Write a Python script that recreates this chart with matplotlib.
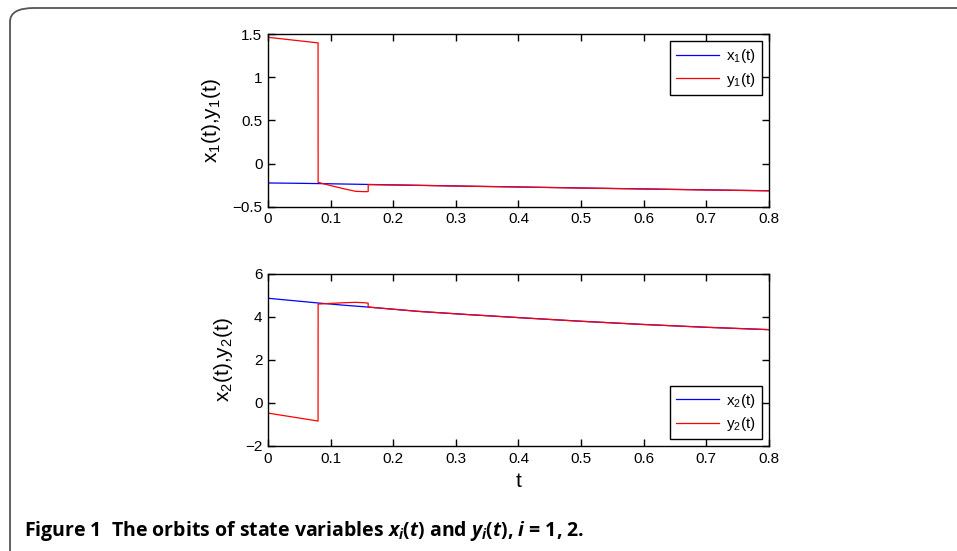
import numpy as np
import matplotlib
matplotlib.use("Agg")
import matplotlib.pyplot as plt
from matplotlib.patches import FancyBboxPatch

plt.rcParams['font.family'] = ['Liberation Sans', 'DejaVu Sans']
plt.rcParams['mathtext.fontset'] = 'custom'
plt.rcParams['mathtext.rm'] = 'Liberation Sans'
plt.rcParams['mathtext.it'] = 'Open Sans:italic:bold'

# drive states x1, x2
t_x = [0, 0.04, 0.08, 0.12, 0.16, 0.24, 0.32, 0.40, 0.50, 0.60, 0.70, 0.80]
x1 = [-0.225, -0.228, -0.232, -0.237, -0.242, -0.252, -0.262, -0.271, -0.283, -0.294, -0.305, -0.315]
x2 = [4.87, 4.76, 4.65, 4.55, 4.46, 4.26, 4.11, 3.97, 3.80, 3.65, 3.52, 3.41]

# response states y1, y2 (impulses at t = 0.08 and t = 0.16)
t_y = [0, 0.08, 0.0801, 0.10, 0.12, 0.14, 0.155, 0.16, 0.1601, 0.24, 0.32, 0.40, 0.50, 0.60, 0.70, 0.80]
y1 = [1.465, 1.40, -0.218, -0.255, -0.29, -0.322, -0.326, -0.325, -0.244, -0.253, -0.263, -0.272, -0.284, -0.295, -0.306, -0.316]
y2 = [-0.47, -0.84, 4.60, 4.63, 4.66, 4.68, 4.66, 4.64, 4.46, 4.26, 4.11, 3.97, 3.80, 3.65, 3.52, 3.41]

x_ticks = [0, 0.1, 0.2, 0.3, 0.4, 0.5, 0.6, 0.7, 0.8]
x_ticklabels = ['0', '0.1', '0.2', '0.3', '0.4', '0.5', '0.6', '0.7', '0.8']
y1_ticks = [-0.5, 0, 0.5, 1, 1.5]
y1_ticklabels = ['\u22120.5', '0', '0.5', '1', '1.5']
y2_ticks = [-2, 0, 2, 4, 6]
y2_ticklabels = ['\u22122', '0', '2', '4', '6']

fig = plt.figure(figsize=(9.57, 5.51), dpi=100)

# rounded frame around the figure
frame = FancyBboxPatch((10 / 957, -0.2), 1.2, 1.2 - 8 / 551,
                       boxstyle="round,pad=0,rounding_size=0.025",
                       transform=fig.transFigure, fill=False,
                       edgecolor='#555555', linewidth=1.3)
fig.add_artist(frame)


def style_axes(ax, yticks, yticklabels):
    ax.set_xlim(0, 0.8)
    ax.set_xticks(x_ticks)
    ax.set_xticklabels(x_ticklabels)
    ax.set_yticks(yticks)
    ax.set_yticklabels(yticklabels)
    ax.tick_params(direction='in', top=True, right=True, length=5,
                   width=1.0, labelsize=11, pad=4)
    for s in ax.spines.values():
        s.set_linewidth(1.0)


def add_legend(ax, loc):
    leg = ax.legend(loc=loc, fontsize=11, fancybox=False,
                    edgecolor='black', framealpha=1, handlelength=2.8,
                    handletextpad=0.5, borderaxespad=0.45, labelspacing=0.35)
    leg.get_frame().set_linewidth(1.0)


ax1 = fig.add_axes([0.280, 0.6249, 0.5235, 0.3129])
ax1.plot(t_x, x1, color='blue', lw=0.9, label='x$_1$(t)')
ax1.plot(t_y, y1, color='red', lw=0.9, label='y$_1$(t)')
ax1.set_ylim(-0.5, 1.5)
style_axes(ax1, y1_ticks, y1_ticklabels)
ax1.set_ylabel('x$_1$(t),y$_1$(t)', fontsize=15, labelpad=7)
add_legend(ax1, 'upper right')

ax2 = fig.add_axes([0.280, 0.1906, 0.5235, 0.3122])
ax2.plot(t_x, x2, color='blue', lw=0.9, label='x$_2$(t)')
ax2.plot(t_y, y2, color='red', lw=0.9, label='y$_2$(t)')
ax2.set_ylim(-2, 6)
style_axes(ax2, y2_ticks, y2_ticklabels)
ax2.set_ylabel('x$_2$(t),y$_2$(t)', fontsize=15, labelpad=7)
ax2.set_xlabel('t', fontsize=15, labelpad=5)
add_legend(ax2, 'lower right')

fig.text(24 / 957, 1 - 531 / 551,
         'Figure 1  The orbits of state variables $x_i$($t$) and $y_i$($t$), $i$ = 1, 2.',
         fontsize=14, fontweight='bold', family='Open Sans', va='center', ha='left')

fig.savefig('out.png', dpi=100)
